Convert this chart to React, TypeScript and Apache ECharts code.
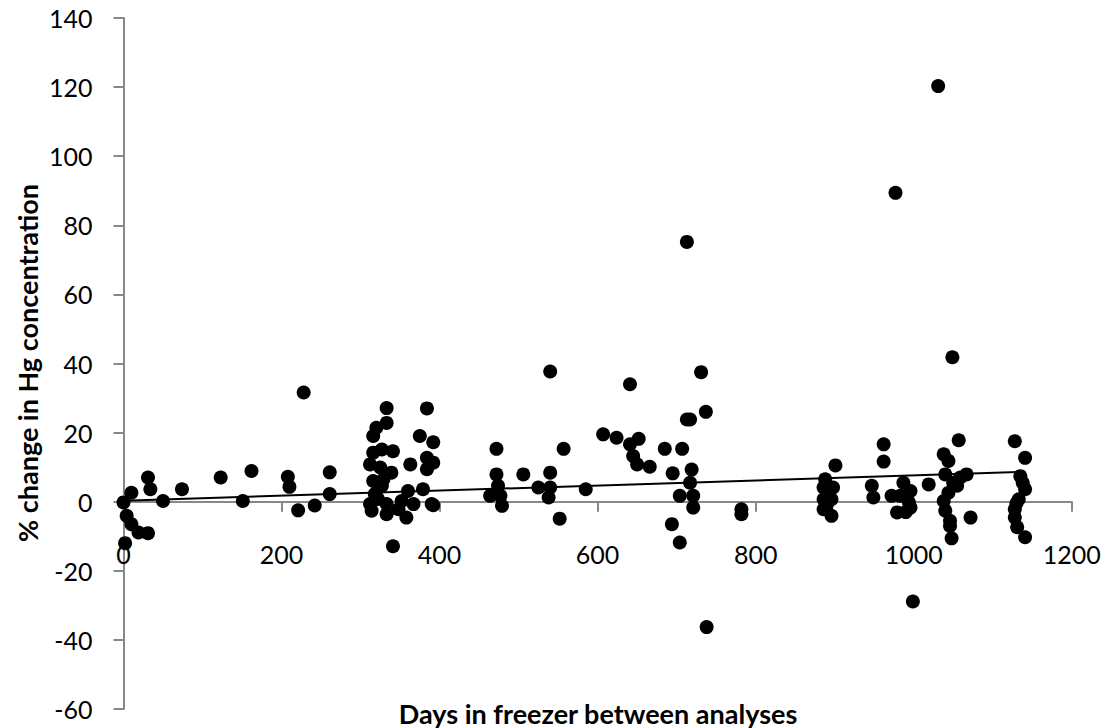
import React, { useEffect, useRef } from "react";
import * as echarts from "echarts";

// axis ranges
const xMin = 0;
const xMax = 1200;
const xStep = 200;
const yMin = -60;
const yMax = 140;
const yStep = 20;

const xTitle = "Days in freezer between analyses";
const yTitle = "% change in Hg concentration";

// linear trendline as drawn in the picture: % change = intercept + slope * days
const trendIntercept = 0.3;
const trendSlope = 0.0073;

// [days in freezer, % change], grouped by where they sit on the x axis
const first100Days = [
  [0, -0.2], [2, -12], [4, -4.1], [10, 2.6], [10, -6.5], [19, -8.9],
  [31, -9.1], [31, 7], [34, 3.6], [50, 0.2], [74, 3.6],
];

const days100to300 = [
  [123, 7], [151, 0.2], [162, 8.9], [208, 7.2], [210, 4.3], [221, -2.5],
  [228, 31.6], [242, -1.1], [261, 8.5], [261, 2.2],
];

const days300to400 = [
  [333, 27.1], [384, 27], [333, 22.8], [320, 21.4], [316, 19], [375, 19],
  [392, 17.2], [316, 14.2], [341, 14.6], [327, 15.1], [363, 10.8], [384, 12.7],
  [392, 11.3], [384, 9.4], [312, 10.8], [325, 9.9], [339, 8.4], [316, 6],
  [327, 4.6], [329, 6.5], [318, 2.2], [360, 3.1], [379, 3.6], [312, -0.7],
  [333, -0.7], [322, 0.8], [352, 0.2], [390, -0.7], [314, -2.6], [333, -3.6],
  [358, -4.6], [348, -2.2], [367, -0.7], [341, -12.9], [392, -1],
];

const days400to600 = [
  [472, 15.3], [472, 7.9], [474, 4.6], [464, 1.7], [477, 1.7], [479, -1.2],
  [506, 7.9], [525, 4.1], [540, 8.4], [540, 4.1], [538, 1.2], [540, 37.7],
  [557, 15.3], [552, -4.9], [585, 3.6],
];

const days600to800 = [
  [607, 19.5], [624, 18.5], [641, 34], [652, 18.2], [641, 16.6], [645, 13.2],
  [650, 10.8], [666, 10.1], [685, 15.3], [707, 15.3], [695, 8.2], [719, 9.3],
  [717, 5.5], [704, 1.7], [721, 1.7], [721, -1.7], [694, -6.5], [704, -11.8],
  [738, -36.3], [713, 75.2], [731, 37.5], [737, 26], [713, 23.8], [717, 23.8],
  [782, -2.2], [782, -3.6],
];

const days800to1000 = [
  [901, 10.5], [888, 6.5], [886, 4.1], [898, 4.1], [893, 2.5], [886, 0.7],
  [896, 0.7], [890, -1], [886, -2.2], [896, -4.1],
  [962, 16.6], [962, 11.6], [947, 4.6], [949, 1.2], [972, 1.7], [983, 1.7],
  [987, 5.5], [996, 3.1], [994, -0.2], [979, -3.1], [996, -1.7], [990, -3],
  [977, 89.4], [999, -28.9],
];

const days1000to1200 = [
  [1019, 5], [1031, 120.3], [1049, 41.8], [1057, 17.8], [1038, 13.7],
  [1044, 11.8], [1040, 7.9], [1050, 5.5], [1059, 7], [1067, 7.9], [1055, 4.6],
  [1044, 2.6], [1038, 0.2], [1040, -2.6], [1046, -5.5], [1046, -7],
  [1048, -10.6], [1072, -4.6],
  [1128, 17.5], [1141, 12.7], [1135, 7.4], [1138, 5.5], [1141, 3.6],
  [1133, 0.7], [1130, -0.5], [1128, -2.2], [1128, -4.6], [1131, -7.4],
  [1141, -10.3],
];

const allPoints = [
  ...first100Days,
  ...days100to300,
  ...days300to400,
  ...days400to600,
  ...days600to800,
  ...days800to1000,
  ...days1000to1200,
];

const FONT = "Lato, 'Open Sans', sans-serif";
const W = 1108;
const H = 728;
const GRID = { left: 123.5, right: 36.3, top: 18, bottom: 19 };

const App = () => {
  const chartRef = useRef<HTMLDivElement>(null);

  useEffect(() => {
    const chart = echarts.init(chartRef.current, null, { renderer: "svg" });

    // trendline runs from day 0 to the last sample
    const lastX = Math.max(...allPoints.map((p) => p[0]));
    const trend = [
      [0, trendIntercept],
      [lastX, trendIntercept + trendSlope * lastX],
    ];

    // the x axis sits on y = 0 with its labels, so lift the whole axis there
    const plotH = H - GRID.top - GRID.bottom;
    const zeroLift = ((0 - yMin) / (yMax - yMin)) * plotH;

    const axisLine = { show: true, onZero: false, lineStyle: { color: "#888", width: 2 } };
    const axisTick = { show: true, length: 10, lineStyle: { color: "#888", width: 2 } };
    const tickFont = { color: "#000", fontSize: 25, fontFamily: FONT };

    const option = {
      animation: false,
      backgroundColor: "#fff",
      grid: { ...GRID, outerBoundsMode: "none" },
      xAxis: {
        type: "value",
        min: xMin,
        max: xMax,
        interval: xStep,
        offset: -zeroLift,
        axisLine,
        axisTick,
        splitLine: { show: false },
        axisLabel: { ...tickFont, margin: 40, formatter: (v: number) => String(v) },
      },
      yAxis: {
        type: "value",
        min: yMin,
        max: yMax,
        interval: yStep,
        axisLine,
        axisTick,
        splitLine: { show: false },
        axisLabel: { ...tickFont, margin: 31 },
      },
      graphic: [
        {
          type: "text",
          x: 598,
          y: 713,
          style: {
            text: xTitle,
            fontSize: 27,
            fontWeight: "bold",
            fontFamily: FONT,
            fill: "#000",
            textAlign: "center",
            textVerticalAlign: "middle",
          },
        },
        {
          type: "text",
          x: 27,
          y: 363,
          rotation: Math.PI / 2,
          style: {
            text: yTitle,
            fontSize: 27,
            fontWeight: "bold",
            fontFamily: FONT,
            fill: "#000",
            textAlign: "center",
            textVerticalAlign: "middle",
          },
        },
      ],
      series: [
        {
          type: "line",
          data: trend,
          symbol: "none",
          lineStyle: { color: "#000", width: 2 },
          z: 1,
        },
        {
          type: "scatter",
          data: allPoints,
          symbol: "circle",
          symbolSize: 14,
          itemStyle: { color: "#000", opacity: 1 },
          z: 2,
        },
      ],
    };

    chart.setOption(option);
    return () => {
      chart.dispose();
    };
  }, []);

  return (
    <div
      ref={chartRef}
      style={{ position: "fixed", left: 0, top: 0, width: W, height: H }}
    />
  );
};

export default App;
